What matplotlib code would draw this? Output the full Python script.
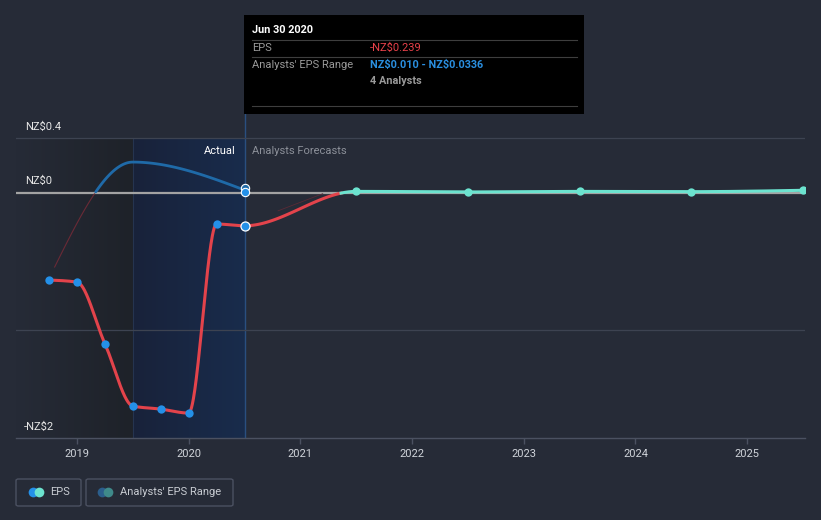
import numpy as np
import matplotlib
matplotlib.use("Agg")
import matplotlib.pyplot as plt
from matplotlib.patches import Rectangle, FancyBboxPatch
from matplotlib.lines import Line2D
from matplotlib.colors import to_rgb

plt.rcParams['font.family'] = ['Roboto', 'DejaVu Sans']

# ---------------- data ----------------
eps_dates = [2018.75, 2019.0, 2019.25, 2019.5, 2019.75, 2020.0, 2020.25, 2020.5]
eps_values = [-0.635, -0.65, -1.10, -1.555, -1.577, -1.606, -0.226, -0.239]

fc_dates = [2021.5, 2022.5, 2023.5, 2024.5, 2025.5]
fc_values = [0.012, 0.008, 0.012, 0.010, 0.020]

range_dates = [2018.8, 2019.5, 2020.5]
range_values = [-0.54, 0.226, 0.022]
range_end_low = 0.010
range_end_high = 0.0336

year_ticks = [2019, 2020, 2021, 2022, 2023, 2024, 2025]
year_labels = ["2019", "2020", "2021", "2022", "2023", "2024", "2025"]

# ---------------- style ----------------
BG = "#262b37"
RED = "#e3434b"
BLUE_DOT = "#2490e8"
TEAL = "#6ce3cf"
RANGE_BLUE = "#1f6aa8"
W, H = 821, 520


def fx(p):
    return p / W


def fy(p):
    return 1 - p / H


def monotone(x, y, n=60):
    x = np.asarray(x, float)
    y = np.asarray(y, float)
    h = np.diff(x)
    d = np.diff(y) / h
    m = np.zeros_like(x)
    m[0] = d[0]
    m[-1] = d[-1]
    for k in range(1, len(x) - 1):
        if d[k - 1] * d[k] <= 0:
            m[k] = 0
        else:
            w1 = 2 * h[k] + h[k - 1]
            w2 = h[k] + 2 * h[k - 1]
            m[k] = (w1 + w2) / (w1 / d[k - 1] + w2 / d[k])
    if len(x) > 2:
        m[0] = (3 * d[0] - m[1]) / 2 if d[0] * (3 * d[0] - m[1]) > 0 else 0
        m[-1] = (3 * d[-1] - m[-2]) / 2 if d[-1] * (3 * d[-1] - m[-2]) > 0 else 0
    xs, ys = [], []
    for k in range(len(x) - 1):
        t = np.linspace(0, 1, n)
        h00 = 2 * t**3 - 3 * t**2 + 1
        h10 = t**3 - 2 * t**2 + t
        h01 = -2 * t**3 + 3 * t**2
        h11 = t**3 - t**2
        xs.append(x[k] + t * h[k])
        ys.append(h00 * y[k] + h10 * h[k] * m[k] + h01 * y[k + 1] + h11 * h[k] * m[k + 1])
    return np.concatenate(xs), np.concatenate(ys)


fig = plt.figure(figsize=(8.21, 5.2), dpi=100, facecolor=BG)
ax = fig.add_axes([fx(16), fy(438), (805 - 16) / W, 438 / H])
ax.set_facecolor(BG)
X0, X1 = 2018.454, 2025.518
Y0, Y1 = -1.788, 1.409
ax.set_xlim(X0, X1)
ax.set_ylim(Y0, Y1)


def grad(c0, c1, n=256):
    a = np.array(to_rgb(c0))
    b = np.array(to_rgb(c1))
    t = np.linspace(0, 1, n)[:, None]
    return (a + (b - a) * t)[None, :, :]


ax.imshow(grad(BG, "#1e2229"), extent=[X0, 2019.5, Y0, 0.4], aspect="auto", zorder=0.5, interpolation="bilinear")
ax.imshow(grad("#19223a", "#182c4c"), extent=[2019.5, 2020.5, Y0, 0.4], aspect="auto", zorder=0.5, interpolation="bilinear")
ax.plot([2019.5, 2019.5], [Y0, 0.4], color="#25344f", lw=0.8, zorder=0.6)
ax.plot([2020.5, 2020.5], [Y0, (193 - 114) / 137], color="#2a4f80", lw=1.0, zorder=0.6)

# grid lines
for gv in [0.4, -1.0]:
    ax.axhline(gv, color="#3d4351", lw=0.9, zorder=1)
ax.axhline(0, color="#a3a3a3", lw=1.6, zorder=1.2)

# analysts range line (past)
rx, ry = monotone(range_dates, range_values)
neg = ry <= 0
ax.plot(rx[neg], ry[neg], color="#6a2a36", lw=0.8, zorder=2)
ax.plot(rx[~neg], ry[~neg], color=RANGE_BLUE, lw=2.0, zorder=2, solid_capstyle="round")
ax.plot([2020.5], [range_end_high], "o", ms=6, color=RANGE_BLUE, mec="white", mew=0.8, zorder=5)
ax.plot([2020.5], [range_end_low], "o", ms=6, color=BLUE_DOT, mec="white", mew=0.8, zorder=5)

# faint forecast range line
ax.plot([2020.8, 2021.2], [-0.13, -0.005], color="#5a2a36", lw=0.6, zorder=2)

# EPS actual + forecast as one smooth curve
all_x = eps_dates + fc_dates
all_y = eps_values + fc_values
cx, cy = monotone(all_x, all_y)
act = cx <= 2020.5
ax.plot(cx[act], cy[act], color=RED, lw=2.2, zorder=3, solid_capstyle="round")
fmask = cx >= 2020.5
fxs, fys = cx[fmask], cy[fmask]
ax.plot(fxs[fys < 0.0], fys[fys < 0.0], color=RED, lw=2.2, zorder=3)
ax.plot(fxs[fys >= -0.003], fys[fys >= -0.003], color=TEAL, lw=2.2, zorder=3)

ax.plot(eps_dates[:-1], eps_values[:-1], "o", ms=6, color=BLUE_DOT, mec="none", zorder=4)
ax.plot(eps_dates[-1], eps_values[-1], "o", ms=6.5, color=BLUE_DOT, mec="white", mew=0.9, zorder=4)
ax.plot(fc_dates, fc_values, "o", ms=6, color=TEAL, mec="none", zorder=4)

# axes styling
for s in ["top", "right", "left"]:
    ax.spines[s].set_visible(False)
ax.spines["bottom"].set_color("#4b5161")
ax.spines["bottom"].set_linewidth(1.0)
ax.set_yticks([])
ax.set_xticks(year_ticks)
ax.set_xticklabels(year_labels)
ax.tick_params(axis="x", colors="#4b5161", labelcolor="#d0d4da", labelsize=8, length=4, width=1, pad=4)

# y labels
ylab_color = "#e6e6e6"
fig.text(fx(25), fy(127), r"NZ\$0.4", color=ylab_color, fontsize=8, va="center", ha="left")
fig.text(fx(25), fy(181), r"NZ\$0", color=ylab_color, fontsize=8, va="center", ha="left")
fig.text(fx(24), fy(427), r"-NZ\$2", color=ylab_color, fontsize=8, va="center", ha="left")

fig.text(fx(236), fy(151), "Actual", color="#ffffff", fontsize=8, va="center", ha="right")
fig.text(fx(252), fy(151), "Analysts Forecasts", color="#8c9099", fontsize=8, va="center", ha="left")

# tooltip
fig.add_artist(Rectangle((fx(244), fy(114)), (584 - 244) / W, (114 - 15) / H,
                         transform=fig.transFigure, facecolor="#000000", edgecolor="none", zorder=10))
for yy in [40, 57, 106]:
    fig.add_artist(Line2D([fx(252), fx(577)], [fy(yy), fy(yy)], transform=fig.transFigure,
                          color="#3e3e3e", lw=0.8, zorder=11))
fig.text(fx(252), fy(30), "Jun 30 2020", color="white", fontsize=7.8, fontweight="bold", va="center", zorder=12)
fig.text(fx(252), fy(48), "EPS", color="#9a9a9a", fontsize=8, va="center", zorder=12)
fig.text(fx(370), fy(48), r"-NZ\$0.239", color="#e8414a", fontsize=8, va="center", zorder=12)
fig.text(fx(252), fy(65), "Analysts' EPS Range", color="#9a9a9a", fontsize=8, va="center", zorder=12)
fig.text(fx(370), fy(65), r"NZ\$0.010 - NZ\$0.0336", color="#2a8fe0", fontsize=7.8, fontweight="bold",
         va="center", zorder=12)
fig.text(fx(370), fy(81), "4 Analysts", color="#9a9a9a", fontsize=7.8, fontweight="bold", va="center", zorder=12)


# legend
def box(x0, x1, y0, y1):
    fig.add_artist(FancyBboxPatch((fx(x0), fy(y1)), (x1 - x0) / W, (y1 - y0) / H,
                                  boxstyle="round,pad=0,rounding_size=0.003",
                                  transform=fig.transFigure, facecolor="none",
                                  edgecolor="#4b5161", lw=1.0))


box(16, 81, 479, 506)
box(86, 233, 479, 506)
fig.add_artist(Line2D([fx(33)], [fy(492)], marker="o", ms=7, color=BLUE_DOT, mec="none", transform=fig.transFigure))
fig.add_artist(Line2D([fx(39)], [fy(492)], marker="o", ms=7, color=TEAL, mec="none", transform=fig.transFigure))
fig.add_artist(Line2D([fx(102)], [fy(492)], marker="o", ms=7, color="#2b5e8c", mec="none", transform=fig.transFigure))
fig.add_artist(Line2D([fx(108)], [fy(492)], marker="o", ms=7, color="#3f8a8a", mec="none", transform=fig.transFigure))
fig.text(fx(50), fy(492), "EPS", color="#c8ccd2", fontsize=8, va="center")
fig.text(fx(120), fy(492), "Analysts' EPS Range", color="#c8ccd2", fontsize=8, va="center")

fig.savefig("out.png", dpi=100, facecolor=BG)
